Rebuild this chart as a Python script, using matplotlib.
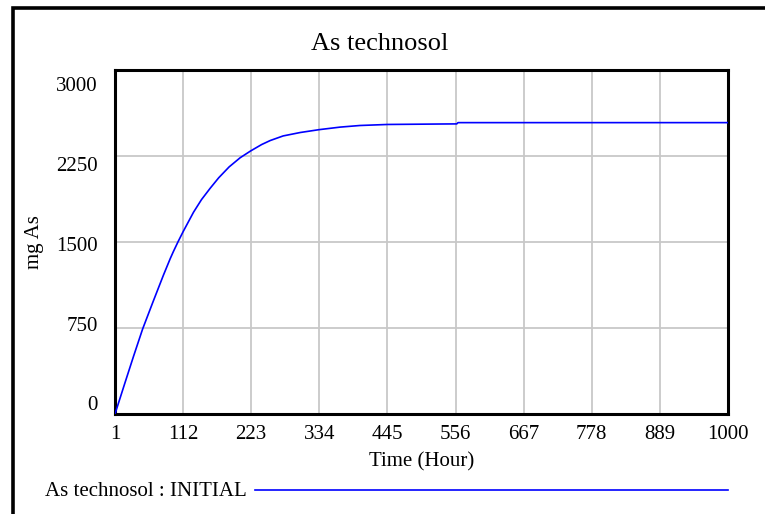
import matplotlib.pyplot as plt
from matplotlib.lines import Line2D

# simulated As content of the technosol, read hourly
hours = [1, 17, 31, 46, 63, 80, 91, 96, 104, 112, 129, 142, 156, 170, 187, 205,
         222, 240, 254, 275, 303, 334, 368, 400, 445, 531, 558, 560, 1000]
as_mg = [0, 268, 500, 741, 979, 1212, 1355, 1415, 1505, 1590, 1760, 1870, 1968,
         2060, 2155, 2235, 2294, 2350, 2385, 2425, 2455, 2480, 2502, 2516, 2525,
         2529, 2530, 2541, 2541]

x_ticks = [1, 112, 223, 334, 445, 556, 667, 778, 889, 1000]
y_ticks = [0, 750, 1500, 2250, 3000]

TITLE = "As technosol"
RUN_NAME = "INITIAL"

plt.rcParams['font.family'] = ['Liberation Serif', 'DejaVu Serif']

W, H = 765, 514
fig = plt.figure(figsize=(W / 100, H / 100), dpi=100)

# axes box in pixels: left, top, right, bottom
L, T, R, B = 115, 70, 728, 414
ax = fig.add_axes([L / W, 1 - B / H, (R - L) / W, (B - T) / H])

ax.plot(hours, as_mg, color='#0000ff', lw=1.2, zorder=3)

ax.set_xlim(1, 1000)
ax.set_ylim(0, 3000)
ax.set_xticks(x_ticks)
ax.set_yticks(y_ticks)
ax.set_xticklabels([str(t) for t in x_ticks], fontsize=15)
ax.set_yticklabels([])
ax.tick_params(length=0, pad=8)
ax.grid(True, color='#c8c8c8', lw=1.3)
ax.set_axisbelow(True)
for s in ax.spines.values():
    s.set_linewidth(2.2)
    s.set_color('black')

# y labels sit on a slightly compressed ladder
for v in y_ticks:
    ax.text(-0.028, 0.024 + v / 3000 * 0.927, str(v), transform=ax.transAxes,
            ha='right', va='center', fontsize=15)

fig.text(380 / W, 1 - 44 / H, TITLE, ha='center', va='center', fontsize=19)
fig.text(35 / W, 1 - 242 / H, "mg As", ha='center', va='center',
         rotation=90, fontsize=15)
fig.text(422 / W, 1 - 462 / H, "Time (Hour)", ha='center', va='center', fontsize=15)

# legend row
fig.text(45 / W, 1 - 491 / H, TITLE + " : " + RUN_NAME, ha='left', va='center',
         fontsize=15)
fig.add_artist(Line2D([255 / W, 728 / W], [1 - 490 / H, 1 - 490 / H],
                      color='#0000ff', lw=1.2))

# outer frame, running off the right and bottom edges
fx, fy = 13 / W, 1 - 8 / H
fig.add_artist(Line2D([fx, fx, 1.01], [-0.01, fy, fy], color='black', lw=2.6,
                      solid_joinstyle='miter'))

fig.savefig("out.png", dpi=100)
